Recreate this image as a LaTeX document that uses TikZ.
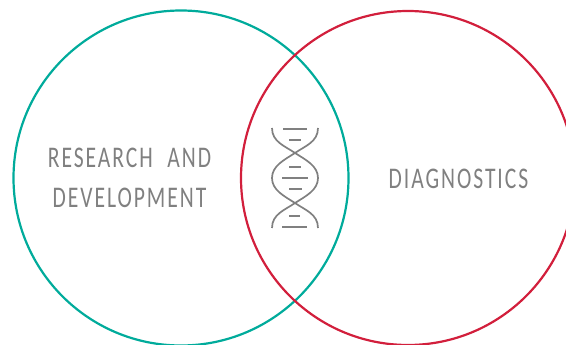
\documentclass[tikz,border=0pt]{standalone}
\usepackage{fontspec}
\setmainfont{Carlito}
\newfontfamily\labelfont[LetterSpace=9]{Carlito}
\definecolor{tealc}{HTML}{00AB9B}
\definecolor{redc}{HTML}{D21F3C}
\definecolor{grayc}{HTML}{808080}
\tikzset{
  ring/.style={line width=2.2pt,fill=none},
  strand/.style={draw=grayc,line width=1.7pt},
  rung/.style={draw=grayc,line width=1.4pt},
  lab/.style={text=grayc,font=\labelfont\fontsize{30}{30}\selectfont,inner sep=0pt,anchor=center,xscale=0.72,transform shape}
}
\begin{document}
\begin{tikzpicture}[x=1pt,y=-1pt]
\useasboundingbox (0,0) rectangle (566,345);
\clip (0,0) rectangle (566,345);
\draw[ring,draw=tealc] (181,178) circle[radius=167.5];
\draw[ring,draw=redc] (408,178) circle[radius=167];
\node[lab] (r1) at (129.5,158) {RESEARCH\hspace{11pt} AND};
\node[lab] (r2) at (129.5,198) {DEVELOPMENT};
\node[lab] (d) at (458.5,179) {DIAGNOSTICS};
% DNA
\draw[strand] (272,128) .. controls (272,142) and (285,146) .. (295,153)
  .. controls (306,160) and (318,166) .. (318,178)
  .. controls (318,190) and (306,196) .. (295,203)
  .. controls (285,210) and (272,214) .. (272,228);
\draw[strand] (318,128) .. controls (318,142) and (305,146) .. (295,153)
  .. controls (284,160) and (272,166) .. (272,178)
  .. controls (272,190) and (284,196) .. (295,203)
  .. controls (305,210) and (318,214) .. (318,228);
\foreach \xa/\xb/\yy in {283/307/129,289/301/140,289/301/167,282/308/178,289/302/189,289/300/216,282/307/227}
  \draw[rung] (\xa,\yy) -- (\xb,\yy);
\end{tikzpicture}
\end{document}
